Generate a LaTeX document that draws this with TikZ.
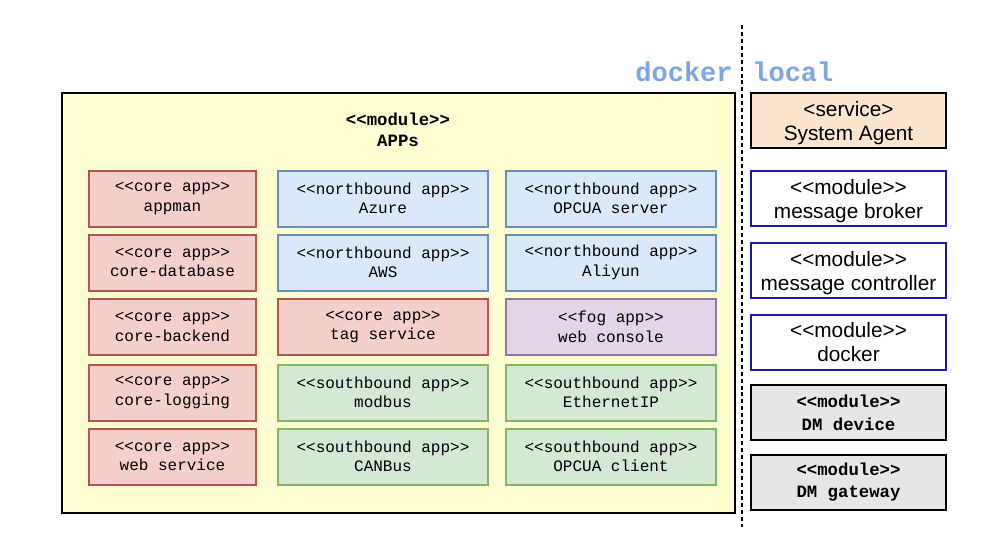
\documentclass[tikz,border=0pt]{standalone}
\usepackage{fontspec}
\setmainfont{Liberation Sans}[Ligatures=TeXOff]
\setmonofont{Liberation Mono}
\definecolor{yel}{HTML}{FFFDD2}
\definecolor{redf}{HTML}{F4CFCC}
\definecolor{reds}{HTML}{B85450}
\definecolor{bluf}{HTML}{DAE8FC}
\definecolor{blus}{HTML}{6C8EBF}
\definecolor{grnf}{HTML}{D5E8D4}
\definecolor{grns}{HTML}{82B366}
\definecolor{purf}{HTML}{E1D5E7}
\definecolor{purs}{HTML}{9673A6}
\definecolor{orf}{HTML}{FBE5CE}
\definecolor{grayf}{HTML}{E6E6E6}
\definecolor{navy}{HTML}{1A1A9C}
\definecolor{lbl}{HTML}{7EA6E0}
\begin{document}
\begin{tikzpicture}[x=0.75pt,y=-0.75pt,
  appbox/.style={draw, line width=1.5pt, inner sep=0pt, align=center,
    font=\ttfamily\fontsize{12}{14.6}\selectfont},
  corebox/.style={appbox, fill=redf, draw=reds},
  northbox/.style={appbox, fill=bluf, draw=blus},
  southbox/.style={appbox, fill=grnf, draw=grns},
  fogbox/.style={appbox, fill=purf, draw=purs},
  sidebox/.style={draw, line width=1.5pt, inner sep=0pt, align=center},
  sansbox/.style={sidebox, font=\fontsize{15.6}{18}\selectfont, text depth=-2pt},
  dmbox/.style={sidebox, fill=grayf, draw=black, font=\ttfamily\bfseries\fontsize{13}{17}\selectfont},
  modbox/.style={sansbox, fill=white, draw=navy},
  lbltext/.style={text=lbl, font=\ttfamily\bfseries\fontsize{20.3}{22}\selectfont, inner sep=0pt}
]
\useasboundingbox (0,0) rectangle (996,550);
% dotted separator
\coordinate (dtop) at (742,25);
\coordinate (dbot) at (742,527);
\draw[line width=1.5pt, dash pattern=on 3pt off 2.2pt] (dtop) -- (dbot);
\node[lbltext, anchor=east] (dock) at (733,72) {docker};
\node[lbltext, anchor=west] (loc) at (752,72) {local};
% big APPs box
\node[draw, line width=1.5pt, fill=yel, minimum width=673*0.75pt, minimum height=420*0.75pt, inner sep=0pt] (apps) at (398.5,303) {};
\node[align=center, font=\ttfamily\bfseries\fontsize{13}{15.8}\selectfont] (appst) at (398,130) {<<module>>\\APPs};
\tikzset{c1/.style={minimum width=167*0.75pt}, c2/.style={minimum width=210*0.75pt}, r1/.style={minimum height=56*0.75pt}}
\node[corebox, c1, r1] (appman) at (172.5,198.5) {<<core app>>\\appman};
\node[corebox, c1, r1] (cdb) at (172.5,262.5) {<<core app>>\\core-database};
\node[corebox, c1, r1] (cbe) at (172.5,327) {<<core app>>\\core-backend};
\node[corebox, c1, r1] (clog) at (172.5,392.5) {<<core app>>\\core-logging};
\node[corebox, c1, r1] (web) at (172.5,456.5) {<<core app>>\\web service};
\node[northbox, c2, r1] (azure) at (383,198.5) {<<northbound app>>\\Azure};
\node[northbox, c2, r1] (aws) at (383,262.5) {<<northbound app>>\\AWS};
\node[corebox, c2, r1] (tag) at (383,327) {<<core app>>\\tag service};
\node[southbox, c2, r1] (modbus) at (383,392.5) {<<southbound app>>\\modbus};
\node[southbox, c2, r1] (can) at (383,456.5) {<<southbound app>>\\CANBus};
\node[northbox, c2, r1] (opcs) at (611,198.5) {<<northbound app>>\\OPCUA server};
\node[northbox, c2, r1] (ali) at (611,262.5) {<<northbound app>>\\Aliyun};
\node[fogbox, c2, r1] (webc) at (611,327) {<<fog app>>\\web console};
\node[southbox, c2, r1] (eip) at (611,392.5) {<<southbound app>>\\EthernetIP};
\node[southbox, c2, r1] (opcc) at (611,456.5) {<<southbound app>>\\OPCUA client};
% right column
\tikzset{rc/.style={minimum width=195*0.75pt, minimum height=55*0.75pt}}
\node[sansbox, rc, fill=orf, draw=black] (sa) at (848.5,120.5) {<service>\\System Agent};
\node[modbox, rc] (mb) at (848.5,198.5) {<<module>>\\message broker};
\node[modbox, rc] (mc) at (848.5,270.5) {<<module>>\\message controller};
\node[modbox, rc] (dk) at (848.5,342) {<<module>>\\docker};
\node[dmbox, rc] (dmd) at (848.5,412.5) {<<module>>\\DM device};
\node[dmbox, rc] (dmg) at (848.5,482) {<<module>>\\DM gateway};
\end{tikzpicture}
\end{document}
